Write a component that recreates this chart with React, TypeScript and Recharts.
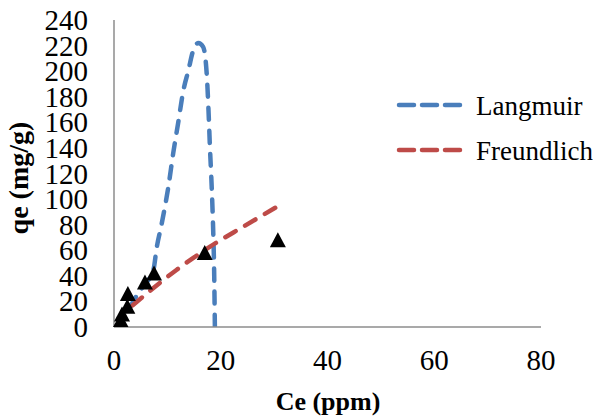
import {
  ComposedChart,
  Line,
  Scatter,
  XAxis,
  YAxis,
  Label,
} from "recharts";

// measured points (Ce, qe)
const ceValues = [1.0, 1.3, 1.5, 2.5, 2.6, 5.8, 7.5, 17.0, 30.7];
const qeValues = [2, 4, 9, 15, 25, 34, 41, 57, 67];

// Langmuir fit as drawn (dashed blue)
const langmuirCe = [3.0, 3.6, 5.5, 7.4, 8.0, 8.9, 10.2, 11.1, 12.0, 13.0, 13.9, 14.9, 15.8, 16.7, 17.4, 17.7, 18.0, 18.3, 18.6, 18.75, 18.9];
const langmuirQe = [15, 20, 32, 45, 62, 80, 110, 136, 159, 185, 200, 217, 222, 219, 196, 170, 138, 110, 73, 47, 0];

// Freundlich fit as drawn (dashed red)
const freundlichCe = [3.5, 11.7, 18.0, 24.2, 31.1];
const freundlichQe = [17, 44.6, 62.8, 78.4, 95.4];

const xTicks = [0, 20, 40, 60, 80];
const yTicks = [0, 20, 40, 60, 80, 100, 120, 140, 160, 180, 200, 220, 240];

const BLUE = "#4a7ebb";
const RED = "#be4b48";
const AXIS = "#8c8c8c";
const SERIF = "Liberation Serif";

const points = ceValues.map((ce, i) => ({ ce, qe: qeValues[i] }));
const langmuir = langmuirCe.map((ce, i) => ({ ce, qe: langmuirQe[i] }));
const freundlich = freundlichCe.map((ce, i) => ({ ce, qe: freundlichQe[i] }));

type ShapeProps = { cx?: number; cy?: number };

function Triangle({ cx = 0, cy = 0 }: ShapeProps) {
  return (
    <polygon
      points={`${cx},${cy - 9} ${cx - 8},${cy + 6} ${cx + 8},${cy + 6}`}
      fill="#000"
    />
  );
}

type TickProps = { x?: number; y?: number; payload?: { value: number } };

function XTick({ x = 0, y = 0, payload }: TickProps) {
  return (
    <text
      x={x}
      y={y + 19}
      textAnchor="middle"
      fill="#000"
      fontFamily={SERIF}
      fontWeight={400}
      fontSize={29}
    >
      {payload?.value}
    </text>
  );
}

function YTick({ x = 0, y = 0, payload }: TickProps) {
  return (
    <text
      x={x}
      y={y + 10}
      textAnchor="end"
      fill="#000"
      fontFamily={SERIF}
      fontWeight={400}
      fontSize={29}
    >
      {payload?.value}
    </text>
  );
}

function XTitle() {
  return (
    <text
      x={320}
      y={402}
      textAnchor="middle"
      fill="#000"
      fontFamily={SERIF}
      fontSize={26}
      fontWeight={700}
    >
      Ce (ppm)
    </text>
  );
}

function YTitle() {
  return (
    <text
      x={20}
      y={170}
      transform="rotate(-90 20 170)"
      textAnchor="middle"
      fill="#000"
      fontFamily={SERIF}
      fontSize={28}
      fontWeight={700}
    >
      qe (mg/g)
    </text>
  );
}

const legendItems = [
  { label: "Langmuir", color: BLUE, y: 97 },
  { label: "Freundlich", color: RED, y: 142 },
];

export default function App() {
  return (
    <div style={{ position: "relative", width: 593, height: 411 }}>
      <ComposedChart
        width={593}
        height={411}
        margin={{ top: 12, right: 60, bottom: 0, left: 0 }}
      >
        <XAxis
          type="number"
          dataKey="ce"
          domain={[0, 80]}
          ticks={xTicks}
          tickLine={false}
          tickSize={0}
          tickMargin={24}
          height={92}
          axisLine={{ stroke: AXIS, strokeWidth: 1.5 }}
          tick={<XTick />}
        >
          <Label content={<XTitle />} />
        </XAxis>
        <YAxis
          type="number"
          dataKey="qe"
          domain={[0, 240]}
          ticks={yTicks}
          interval={0}
          tickLine={false}
          tickSize={0}
          tickMargin={26}
          width={106}
          allowDataOverflow
          axisLine={{ stroke: AXIS, strokeWidth: 1.5 }}
          tick={<YTick />}
        >
          <Label content={<YTitle />} />
        </YAxis>
        <Line
          data={langmuir}
          dataKey="qe"
          type="monotone"
          stroke={BLUE}
          strokeWidth={4.5}
          strokeDasharray="12 11"
          strokeLinecap="round"
          dot={false}
          activeDot={false}
          isAnimationActive={false}
        />
        <Line
          data={freundlich}
          dataKey="qe"
          type="monotone"
          stroke={RED}
          strokeWidth={4.5}
          strokeDasharray="12 11"
          strokeLinecap="round"
          dot={false}
          activeDot={false}
          isAnimationActive={false}
        />
        <Scatter
          data={points}
          dataKey="qe"
          shape={<Triangle />}
          isAnimationActive={false}
        />
      </ComposedChart>
      <svg
        width={210}
        height={90}
        style={{ position: "absolute", left: 387, top: 67 }}
      >
        {legendItems.map((item) => (
          <g key={item.label} transform={`translate(0, ${item.y - 67})`}>
            <line
              x1={4}
              x2={66}
              y1={0}
              y2={0}
              stroke={item.color}
              strokeWidth={4.5}
              strokeDasharray="15 8"
              strokeLinecap="round"
            />
            <text
              x={81}
              y={10}
              fill="#000"
              fontFamily={SERIF}
              fontWeight={400}
              fontSize={27}
            >
              {item.label}
            </text>
          </g>
        ))}
      </svg>
    </div>
  );
}
